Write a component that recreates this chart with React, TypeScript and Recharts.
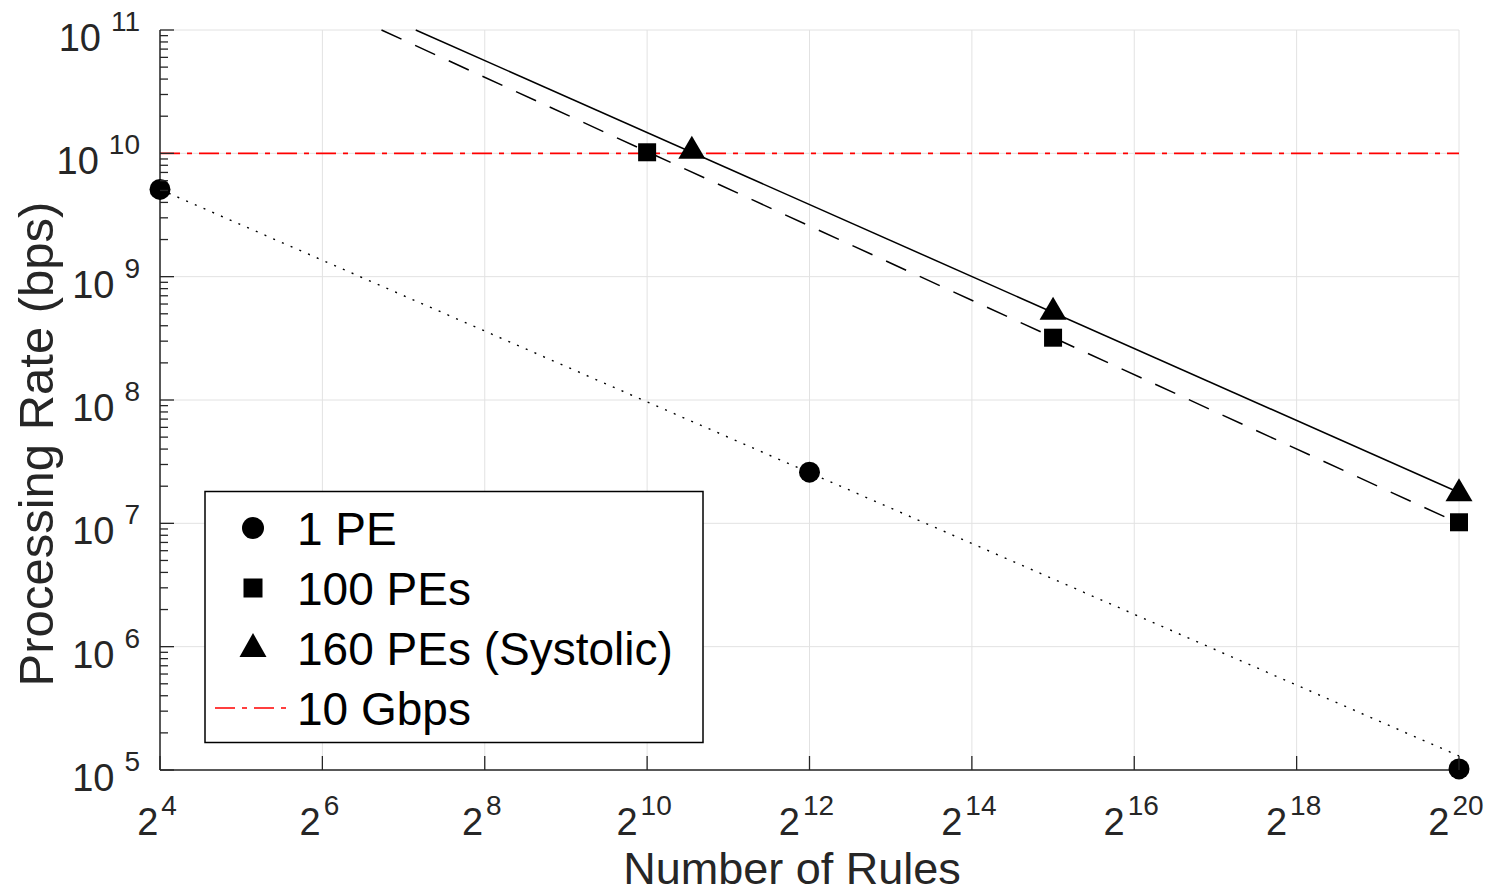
import React from 'react';
import { ComposedChart, Line, Scatter, XAxis, YAxis, CartesianGrid } from 'recharts';

// ---------- data ----------
const seriesNames = ['1 PE', '100 PEs', '160 PEs (Systolic)', '10 Gbps'];

const rules1PE = [16, 4096, 1048576];
const rate1PE = [5.1e9, 2.6e7, 1.02e5];

const rules100PE = [1024, 32768, 1048576];
const rate100PE = [1.02e10, 3.2e8, 1.02e7];

const rules160PE = [1500, 32768, 1048576];
const rate160PE = [1.05e10, 5.2e8, 1.75e7];

// fitted trend lines
const fitRules1PE = [16, 1048576];
const fitRate1PE = [5.1e9, 1.3e5];
const fitRules100PE = [106, 1048576];
const fitRate100PE = [1e11, 1.0e7];
const fitRules160PE = [142, 1048576];
const fitRate160PE = [1e11, 1.78e7];

// 10 Gbps reference
const gbpsRules = [16, 1048576];
const gbpsRate = [1e10, 1e10];

// ticks
const xTicks = [16, 64, 256, 1024, 4096, 16384, 65536, 262144, 1048576];
const xTickExponents = ['4', '6', '8', '10', '12', '14', '16', '18', '20'];
const yMajorTicks = [1e5, 1e6, 1e7, 1e8, 1e9, 1e10, 1e11];
const yMajorExponents = ['5', '6', '7', '8', '9', '10', '11'];
const yMinorMultipliers = [2, 3, 4, 5, 6, 7, 8, 9];
const yMinorTicks = yMajorTicks.slice(0, -1).flatMap((d) => yMinorMultipliers.map((m) => m * d));

const toData = (xs: number[], ys: number[]) => xs.map((n, i) => ({ n, v: ys[i] }));

const data1PE = toData(rules1PE, rate1PE);
const data100PE = toData(rules100PE, rate100PE);
const data160PE = toData(rules160PE, rate160PE);
const fit1PE = toData(fitRules1PE, fitRate1PE);
const fit100PE = toData(fitRules100PE, fitRate100PE);
const fit160PE = toData(fitRules160PE, fitRate160PE);
const gbpsData = toData(gbpsRules, gbpsRate);

// ---------- styling ----------
const W = 1491;
const H = 892;
const AX = '#262626';
const FONT = '"Liberation Sans", Arial, Helvetica, sans-serif';

const YTick = (props: any) => {
  const { x, y, payload } = props;
  const idx = yMajorTicks.indexOf(payload.value);
  if (idx < 0) {
    return <line x1={x} x2={x + 8} y1={y} y2={y} stroke={AX} strokeWidth={1.3} />;
  }
  return (
    <g>
      <line x1={x} x2={x + 14} y1={y} y2={y} stroke={AX} strokeWidth={1.3} />
      <text x={x - 20} y={y + 21} textAnchor="end" fontSize={38} fill={AX} fontFamily={FONT}>
        10
        <tspan dx={10} dy={-20} fontSize={28}>
          {yMajorExponents[idx]}
        </tspan>
      </text>
    </g>
  );
};

const XTick = (props: any) => {
  const { x, y, payload } = props;
  const idx = xTicks.indexOf(payload.value);
  return (
    <g>
      <line x1={x} x2={x} y1={y} y2={y - 14} stroke={AX} strokeWidth={1.3} />
      <text x={x - 3} y={y + 65} textAnchor="middle" fontSize={38} fill={AX} fontFamily={FONT}>
        2
        <tspan dx={3} dy={-20} fontSize={28}>
          {xTickExponents[idx]}
        </tspan>
      </text>
    </g>
  );
};

const CircleMarker = (p: any) => <circle cx={p.cx} cy={p.cy} r={10.5} fill="#000" />;
const SquareMarker = (p: any) => <rect x={p.cx - 9} y={p.cy - 9} width={18} height={18} fill="#000" />;
const TriangleMarker = (p: any) => (
  <polygon
    points={`${p.cx},${p.cy - 15} ${p.cx + 13.5},${p.cy + 8} ${p.cx - 13.5},${p.cy + 8}`}
    fill="#000"
  />
);

const LegendBox = () => {
  const rows = [528, 588, 648, 708];
  const mx = 253;
  const tx = 297;
  return (
    <svg
      width={W}
      height={H}
      style={{ position: 'absolute', left: 0, top: 0, pointerEvents: 'none' }}
    >
      <rect x={205} y={491.5} width={498} height={251} fill="#fff" stroke="#000" strokeWidth={1.5} />
      <circle cx={mx} cy={rows[0]} r={11} fill="#000" />
      <rect x={mx - 9.5} y={rows[1] - 9.5} width={19} height={19} fill="#000" />
      <polygon
        points={`${mx},${rows[2] - 15} ${mx + 13.5},${rows[2] + 9} ${mx - 13.5},${rows[2] + 9}`}
        fill="#000"
      />
      <line x1={215} x2={287} y1={rows[3]} y2={rows[3]} stroke="#ff0000" strokeWidth={1.5} strokeDasharray="20 7 5 7" />
      {seriesNames.map((name, i) => (
        <text key={name} x={tx} y={rows[i] + 16.5} fontSize={46} fill="#000" fontFamily={FONT}>
          {name}
        </text>
      ))}
    </svg>
  );
};

export default function App() {
  return (
    <div style={{ position: 'absolute', left: 0, top: 0, width: W, height: H, background: '#fff' }}>
      <ComposedChart width={W} height={H} margin={{ top: 30, right: 32, bottom: 0, left: 0 }}>
        <CartesianGrid horizontalValues={yMajorTicks} verticalValues={xTicks} stroke="#e2e2e2" strokeWidth={1} />
        <XAxis
          dataKey="n"
          type="number"
          scale="log"
          domain={[16, 1048576]}
          ticks={xTicks}
          interval={0}
          height={122}
          tickSize={0}
          tickMargin={0}
          tickLine={false}
          tick={<XTick />}
          axisLine={{ stroke: AX, strokeWidth: 1.5 }}
        />
        <YAxis
          dataKey="v"
          type="number"
          scale="log"
          domain={[1e5, 1e11]}
          ticks={[...yMajorTicks, ...yMinorTicks]}
          interval={0}
          width={160}
          tickSize={0}
          tickMargin={0}
          tickLine={false}
          tick={<YTick />}
          axisLine={{ stroke: AX, strokeWidth: 1.5 }}
        />
        <Line data={gbpsData} dataKey="v" stroke="#ff0000" strokeWidth={1.6} strokeDasharray="20 7 5 7" dot={false} isAnimationActive={false} />
        <Line data={fit1PE} dataKey="v" stroke="#000" strokeWidth={1.4} strokeDasharray="2 7.5" dot={false} isAnimationActive={false} />
        <Line data={fit100PE} dataKey="v" stroke="#000" strokeWidth={1.5} strokeDasharray="22 15" dot={false} isAnimationActive={false} />
        <Line data={fit160PE} dataKey="v" stroke="#000" strokeWidth={1.5} dot={false} isAnimationActive={false} />
        <Scatter data={data1PE} dataKey="v" shape={<CircleMarker />} isAnimationActive={false} />
        <Scatter data={data100PE} dataKey="v" shape={<SquareMarker />} isAnimationActive={false} />
        <Scatter data={data160PE} dataKey="v" shape={<TriangleMarker />} isAnimationActive={false} />
      </ComposedChart>
      <LegendBox />
      <svg width={W} height={H} style={{ position: 'absolute', left: 0, top: 0, pointerEvents: 'none' }}>
        <text x={792} y={884} textAnchor="middle" fontSize={45} fill={AX} fontFamily={FONT}>
          Number of Rules
        </text>
        <text transform="translate(53,444) rotate(-90)" textAnchor="middle" fontSize={49} fill={AX} fontFamily={FONT}>
          Processing Rate (bps)
        </text>
      </svg>
    </div>
  );
}
